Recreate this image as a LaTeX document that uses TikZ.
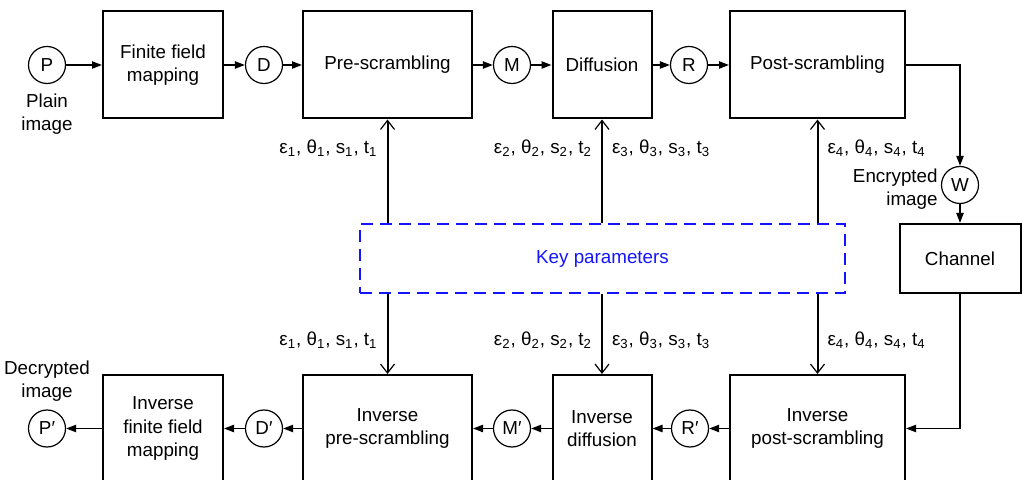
\documentclass[tikz,border=0pt]{standalone}
\usepackage{fontspec}
\setsansfont{Liberation Sans}
\usetikzlibrary{positioning,arrows.meta,calc}
\definecolor{keyblue}{RGB}{20,20,255}
\newcommand{\keytuple}[1]{ε\textsubscript{#1}, θ\textsubscript{#1}, s\textsubscript{#1}, t\textsubscript{#1}}

\begin{document}
\begin{tikzpicture}[
    x=0.5pt, y=-0.5pt,
    font=\sffamily\fontsize{9.4}{11.8}\selectfont,
    block/.style={rectangle, draw, line width=1pt, minimum height=53.5pt, align=center, inner sep=2pt},
    signal/.style={circle, draw, line width=0.6pt, minimum size=18.5pt, inner sep=0pt},
    flow/.style={-{Triangle[length=5pt,width=3.6pt]}, line width=0.8pt},
    param/.style={-{Straight Barb[length=4.5pt,width=7pt,line width=0.6pt]}, line width=1pt},
    paramlabel/.style={inner sep=0pt},
    caption/.style={align=center, inner sep=0pt}
    ]
    \useasboundingbox (0,0) rectangle (1022,480);

    % encryption row
    \node[signal] (p) at (47,65) {P};
    \node[caption] (plain) at (47,114) {Plain\\image};
    \node[block, minimum width=60pt] (ffm) at (163,65) {Finite field\\mapping};
    \node[signal] (d) at (264,65) {D};
    \node[block, minimum width=84.5pt] (pre) at (387.5,65) {Pre-scrambling};
    \node[signal] (m) at (512,65) {M};
    \node[block, minimum width=49.5pt] (dif) at (602,65) {Diffusion};
    \node[signal] (r) at (689,65) {R};
    \node[block, minimum width=87.5pt] (post) at (817.5,65) {Post-scrambling};

    \node[signal] (w) at (960,185) {W};
    \node[caption, anchor=east, align=right] (encimg) at (938,189) {Encrypted\\image};
    \node[block, minimum width=60.5pt, minimum height=34.5pt] (channel) at (960,258.5) {Channel};

    \node[rectangle, draw=keyblue, text=keyblue, line width=1pt, dash pattern=on 6pt off 3.5pt,
          minimum width=242.5pt, minimum height=34.5pt] (key) at (602.5,258.5) {Key parameters};

    % decryption row
    \node[block, minimum width=87.5pt] (ipost) at (817.5,428.5) {Inverse\\post-scrambling};
    \node[signal] (ir) at (690,428.5) {R′};
    \node[block, minimum width=49.5pt] (idif) at (602,428.5) {Inverse\\diffusion};
    \node[signal] (im) at (512,428.5) {M′};
    \node[block, minimum width=84.5pt] (ipre) at (387.5,428.5) {Inverse\\pre-scrambling};
    \node[signal] (id) at (264,428.5) {D′};
    \node[block, minimum width=60pt] (iffm) at (163,428.5) {Inverse\\finite field\\mapping};
    \node[signal] (ip) at (47,428.5) {P′};
    \node[caption] (decimg) at (47,381) {Decrypted\\image};

    \draw[flow] (p.east) -- (ffm.west);
    \draw[flow] (ffm.east) -- (d.west);
    \draw[flow] (d.east) -- (pre.west);
    \draw[flow] (pre.east) -- (m.west);
    \draw[flow] (m.east) -- (dif.west);
    \draw[flow] (dif.east) -- (r.west);
    \draw[flow] (r.east) -- (post.west);
    \draw[flow] (post.east) -| (w.north);
    \draw[flow] (w.south) -- (channel.north);
    \draw[flow] (channel.south) |- (ipost.east);

    \draw[flow] (ipost.west) -- (ir.east);
    \draw[flow] (ir.west) -- (idif.east);
    \draw[flow] (idif.west) -- (im.east);
    \draw[flow] (im.west) -- (ipre.east);
    \draw[flow] (ipre.west) -- (id.east);
    \draw[flow] (id.west) -- (iffm.east);
    \draw[flow] (iffm.west) -- (ip.east);

    % key parameters to the stages
    \draw[param] (key.north -| pre.south) -- node[paramlabel, pos=0.72, left=4.5pt] (k1) {\keytuple{1}} (pre.south);
    \draw[param] (key.north -| dif.south) -- node[paramlabel, pos=0.72, left=4.5pt] (k2) {\keytuple{2}}
        node[paramlabel, pos=0.72, right=4.5pt] (k3) {\keytuple{3}} (dif.south);
    \draw[param] (key.north -| post.south) -- node[paramlabel, pos=0.72, right=4.5pt] (k4) {\keytuple{4}} (post.south);

    \draw[param] (key.south -| ipre.north) -- node[paramlabel, pos=0.58, left=4.5pt] (ik1) {\keytuple{1}} (ipre.north);
    \draw[param] (key.south -| idif.north) -- node[paramlabel, pos=0.58, left=4.5pt] (ik2) {\keytuple{2}}
        node[paramlabel, pos=0.58, right=4.5pt] (ik3) {\keytuple{3}} (idif.north);
    \draw[param] (key.south -| ipost.north) -- node[paramlabel, pos=0.58, right=4.5pt] (ik4) {\keytuple{4}} (ipost.north);
\end{tikzpicture}
\end{document}
